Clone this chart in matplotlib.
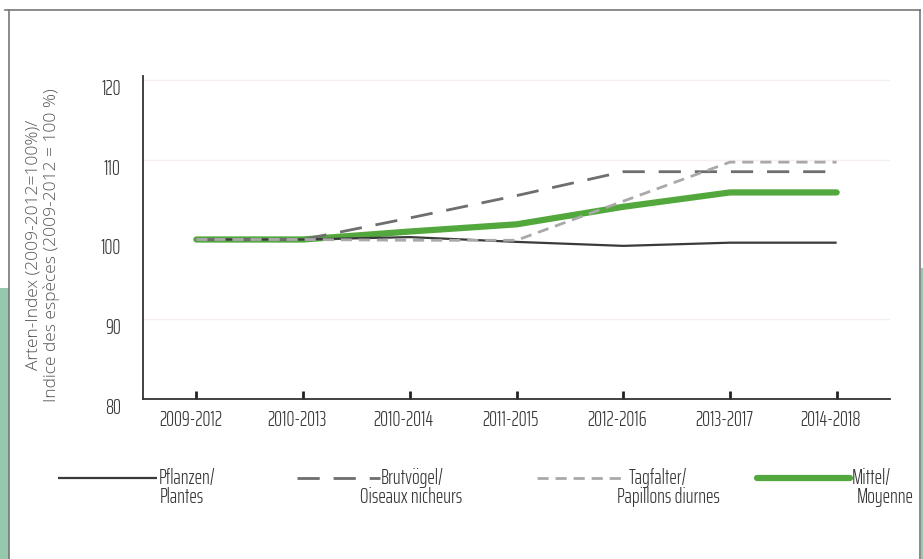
import matplotlib
matplotlib.use("Agg")
import matplotlib.pyplot as plt
from matplotlib.lines import Line2D
from matplotlib.patches import Rectangle
import matplotlib.transforms as mtransforms

periods = ["2009-2012", "2010-2013", "2010-2014", "2011-2015", "2012-2016", "2013-2017", "2014-2018"]
pflanzen = [100.0, 100.0, 100.3, 99.7, 99.2, 99.6, 99.6]
brutvoegel = [100.0, 100.0, 102.7, 105.5, 108.5, 108.5, 108.5]
tagfalter = [100.0, 100.0, 99.9, 99.9, 104.8, 109.7, 109.7]
mittel = [100.0, 100.0, 101.0, 101.9, 104.1, 105.9, 105.9]
yticks = [80, 90, 100, 110, 120]

series_labels = [("Pflanzen/", "Plantes"), ("Brutvögel/", "Oiseaux nicheurs"),
                 ("Tagfalter/", "Papillons diurnes"), ("Mittel/", "Moyenne")]

W, H = 923, 559
fig = plt.figure(figsize=(W / 100, H / 100), dpi=100)
fig.patch.set_facecolor("white")

cond = "Saira ExtraCondensed"
cw = 300
fs_tick = 14.5
fs_leg = 14.5
txt_col = "#383838"

# frame and side strips
fig.add_artist(Rectangle((0, 0), 9 / W, (H - 288) / H, transform=fig.transFigure,
                         facecolor="#96c8ae", edgecolor="none"))
fig.add_artist(Rectangle((921 / W, 0), 2 / W, (H - 268) / H, transform=fig.transFigure,
                         facecolor="#96c8ae", edgecolor="none"))
fig.add_artist(Line2D([9 / W, 9 / W], [0, 1 - 10 / H], transform=fig.transFigure, color="#777777", lw=1.2))
fig.add_artist(Line2D([920 / W, 920 / W], [0, 1 - 10 / H], transform=fig.transFigure, color="#777777", lw=1.2))
fig.add_artist(Line2D([5 / W, 920 / W], [1 - 10 / H, 1 - 10 / H], transform=fig.transFigure, color="#777777", lw=1.2))

left, right, top, bottom = 143, 890, 76, 399
ax = fig.add_axes([left / W, 1 - bottom / H, (right - left) / W, (bottom - top) / H])
ax.set_facecolor("white")
x = list(range(len(periods)))

ax.plot(x, pflanzen, color="#3a3a3a", lw=1.6, solid_capstyle="butt", zorder=3)
ax.plot(x, brutvoegel, color="#6e6e6e", lw=2.0, dashes=(8, 5), zorder=3)
ax.plot(x, tagfalter, color="#a9a9a9", lw=2.0, dashes=(4, 2.5), zorder=3)
ax.plot(x, mittel, color="#52a83c", lw=4.5, solid_capstyle="round", zorder=2)

for y in [90, 110, 120]:
    ax.axhline(y, color="#f7eeee", lw=1.0, zorder=0)

ax.set_xlim(-0.5, 6.5)
ax.set_ylim(80, 120.5)
ax.set_xticks(x)
ax.set_xticklabels(periods, fontfamily=cond, fontweight=cw, fontsize=fs_tick, color=txt_col)
ax.set_yticks(yticks)
ax.set_yticklabels([str(v) for v in yticks], fontfamily=cond, fontweight=cw, fontsize=fs_tick, color=txt_col)
ax.tick_params(axis="x", direction="in", length=6, width=2, color="#222222", pad=8)
ax.tick_params(axis="y", length=0, pad=16)
offset = mtransforms.ScaledTranslation(0, -7 / 100, fig.dpi_scale_trans)
for lab in ax.get_yticklabels():
    lab.set_transform(lab.get_transform() + offset)
xoff = mtransforms.ScaledTranslation(-6 / 100, 0, fig.dpi_scale_trans)
for lab in ax.get_xticklabels():
    lab.set_transform(lab.get_transform() + xoff)
for s in ["top", "right"]:
    ax.spines[s].set_visible(False)
for s in ["left", "bottom"]:
    ax.spines[s].set_color("#333333")
    ax.spines[s].set_linewidth(1.3)

fig.text(43 / W, 1 - 245 / H, "Arten-Index (2009-2012=100%)/\nIndice des espèces (2009-2012 = 100 %)",
         rotation=90, ha="center", va="center", multialignment="center",
         fontsize=12.5, color="#555555", family="Open Sans", fontweight="light", linespacing=1.15)

# legend
leg_y = 1 - 478 / H
leg2_y = 1 - 497 / H
keys = [
    dict(x0=58, x1=157, color="#3a3a3a", lw=1.6, dashes=None, tx=159, tx2=160),
    dict(x0=297, x1=380, color="#6e6e6e", lw=2.0, dashes=(8, 5), tx=381, tx2=360),
    dict(x0=537, x1=626, color="#a9a9a9", lw=2.0, dashes=(4, 2.5), tx=629, tx2=617),
    dict(x0=757, x1=850, color="#52a83c", lw=4.5, dashes=None, tx=852, tx2=857),
]
for k, (l1, l2) in zip(keys, series_labels):
    ln = Line2D([k["x0"] / W, k["x1"] / W], [leg_y, leg_y], transform=fig.transFigure,
                color=k["color"], lw=k["lw"], solid_capstyle="round" if k["lw"] > 3 else "butt")
    if k["dashes"]:
        ln.set_dashes(k["dashes"])
    fig.add_artist(ln)
    fig.text(k["tx"] / W, leg_y, l1, ha="left", va="center", fontfamily=cond, fontweight=cw, fontsize=fs_leg, color=txt_col)
    fig.text(k["tx2"] / W, leg2_y, l2, ha="left", va="center", fontfamily=cond, fontweight=cw, fontsize=fs_leg, color=txt_col)

fig.savefig("out.png", dpi=100, facecolor="white")
